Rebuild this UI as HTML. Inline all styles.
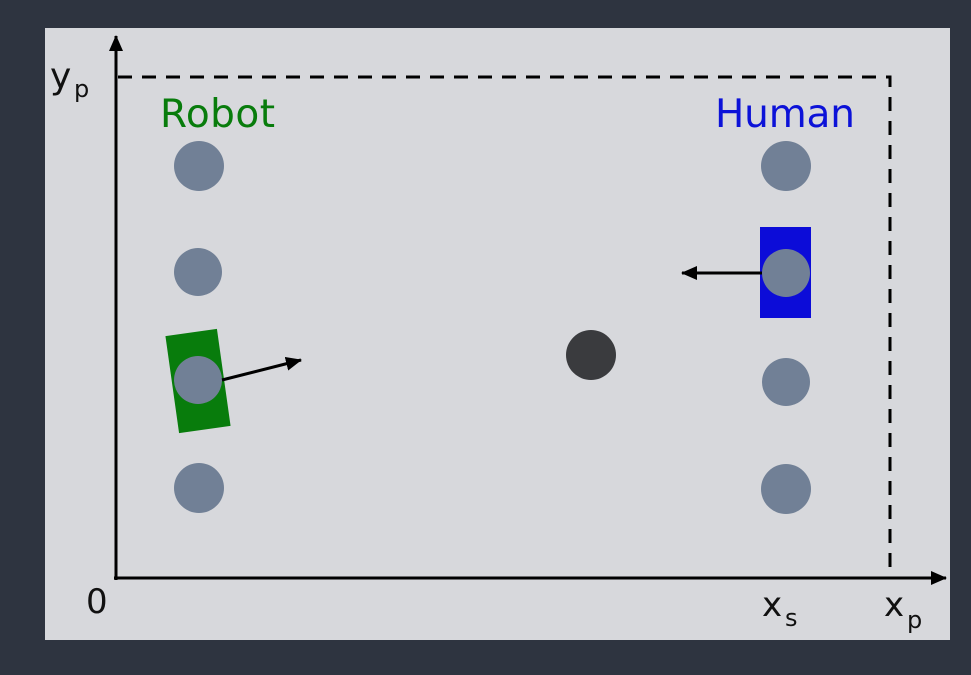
<!DOCTYPE html>
<html><head><style>body{margin:0;background:#2e3440;}svg{display:block}</style></head><body>
<svg width="971" height="675" xmlns="http://www.w3.org/2000/svg" font-family="'DejaVu Sans', 'Liberation Sans', sans-serif">
<rect width="971" height="675" fill="#2e3440"/>
<rect x="45" y="28" width="905" height="612" fill="#d7d8dc"/>
<defs><marker id="a" markerWidth="16" markerHeight="14" refX="15" refY="7" orient="auto" markerUnits="userSpaceOnUse"><path d="M0,0 L16,7 L0,14z" fill="#000"/></marker>
<marker id="b" markerWidth="16" markerHeight="14" refX="15" refY="7" orient="auto" markerUnits="userSpaceOnUse"><path d="M0,0 L16,7 L0,14z" fill="#000"/></marker></defs>
<line x1="116" y1="580" x2="116" y2="36" stroke="#000" stroke-width="3" marker-end="url(#b)"/>
<line x1="114" y1="578" x2="946" y2="578" stroke="#000" stroke-width="3" marker-end="url(#b)"/>
<polyline points="118,77 890,77 890,578" fill="none" stroke="#000" stroke-width="3" stroke-dasharray="14,10"/>
<text x="50" y="88" font-size="36" fill="#111">y</text><text x="74" y="97" font-size="24" fill="#111">p</text>
<text x="86" y="613" font-size="34" fill="#111">0</text>
<text x="762" y="616" font-size="34" fill="#111">x</text><text x="785" y="626" font-size="24" fill="#111">s</text>
<text x="884" y="616" font-size="34" fill="#111">x</text><text x="907" y="628" font-size="24" fill="#111">p</text>
<text x="160" y="127" font-size="39" fill="#087c0c" textLength="115">Robot</text>
<text x="715" y="127" font-size="39" fill="#0c12d8" textLength="140">Human</text>
<g fill="#718096">
<circle cx="199" cy="166" r="25"/><circle cx="198" cy="272" r="24"/><circle cx="199" cy="488" r="25"/>
<circle cx="786" cy="166" r="25"/><circle cx="786" cy="382" r="24"/><circle cx="786" cy="489" r="25"/>
</g>
<rect x="172" y="332" width="52" height="98" fill="#087c0c" transform="rotate(-8 198 381)"/>
<circle cx="198" cy="380" r="24" fill="#718096"/>
<line x1="222" y1="380" x2="301" y2="360" stroke="#000" stroke-width="3" marker-end="url(#a)"/>
<rect x="760" y="227" width="51" height="91" fill="#0c0cd8"/>
<circle cx="786" cy="273" r="24" fill="#718096"/>
<line x1="762" y1="273" x2="682" y2="273" stroke="#000" stroke-width="3" marker-end="url(#a)"/>
<circle cx="591" cy="355" r="25" fill="#3a3b3e"/>
</svg>
</body></html>
